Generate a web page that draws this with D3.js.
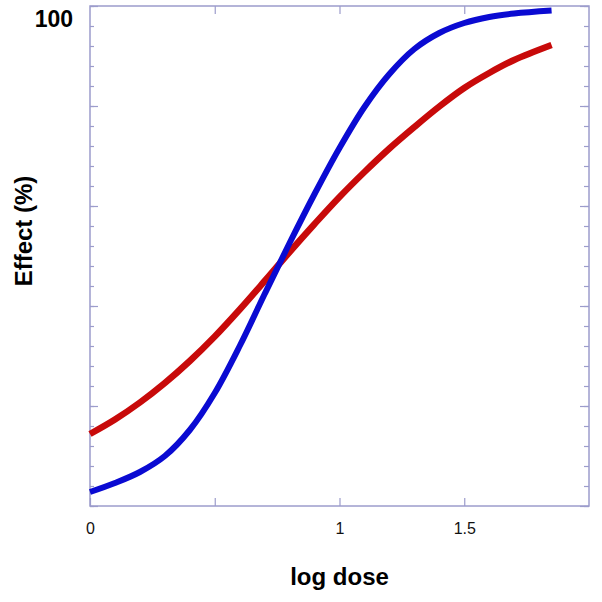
<!DOCTYPE html>
<html>
<head>
<meta charset="utf-8">
<script src="https://cdn.jsdelivr.net/npm/d3@7"></script>
<style>
  body { margin: 0; background: #fff; }
  svg { display: block; font-family: Arial, "Liberation Sans", sans-serif; }
</style>
</head>
<body>
<svg id="chart" width="602" height="602"></svg>
<script>
// data
const doses = [0, 0.1, 0.2, 0.3, 0.4, 0.5, 0.6, 0.7, 0.8, 0.9, 1.0, 1.1, 1.2, 1.3, 1.4, 1.5, 1.6, 1.7, 1.85];
const blueEffect = [2.8, 4.6, 6.8, 10.0, 15.2, 22.6, 32.0, 42.4, 52.6, 62.4, 71.6, 79.8, 86.4, 91.4, 94.6, 96.6, 97.8, 98.5, 99.1];
const redEffect = [14.4, 17.3, 20.7, 24.6, 29.0, 33.9, 39.3, 45.0, 50.8, 56.4, 61.8, 66.8, 71.5, 75.8, 79.9, 83.6, 86.6, 89.2, 92.2];
const xTicks = [0, 0.5, 1, 1.5];
const xTickLabels = ["0", "", "1", "1.5"];
const yMajor = [0, 20, 40, 60, 80, 100];
const yMinor = d3.range(0, 101, 4);

const margin = { top: 6, right: 13, bottom: 96, left: 90 };
const W = 602, H = 602;
const width = W - margin.left - margin.right;
const height = H - margin.top - margin.bottom;
const axisColor = '#9c9ccc';
const fontFamily = 'Arial, "Liberation Sans", sans-serif';

const svg = d3.select('#chart');
const g = svg.append('g').attr('transform', `translate(${margin.left}, ${margin.top})`);

const xScale = d3.scaleLinear().domain([0, 2]).range([0, width]);
const yScale = d3.scaleLinear().domain([0, 100]).range([height, 0]);

const styleAxis = sel => {
	sel.select('.domain').remove();
	sel.selectAll('.tick line').attr('stroke', axisColor).attr('stroke-width', 1.2);
};

// frame
g.append('rect')
	.attr('x', 0).attr('y', 0)
	.attr('width', width).attr('height', height)
	.attr('fill', 'none')
	.attr('stroke', axisColor)
	.attr('stroke-width', 1.5);

// bottom axis
g.append('g')
	.attr('transform', `translate(0, ${height})`)
	.call(d3.axisBottom(xScale).tickValues(xTicks).tickSize(-8).tickPadding(17)
		.tickFormat((d, i) => xTickLabels[i]))
	.call(styleAxis)
	.attr('font-family', fontFamily)
	.attr('font-size', 16)
	.call(a => a.selectAll('.tick text').attr('fill', '#111'));

// top axis
g.append('g')
	.call(d3.axisTop(xScale).tickValues(xTicks.slice(1)).tickSize(-8).tickFormat(''))
	.call(styleAxis);

// left axis
g.append('g')
	.call(d3.axisLeft(yScale).tickValues(yMinor).tickSize(-4).tickFormat(''))
	.call(styleAxis);
g.append('g')
	.call(d3.axisLeft(yScale).tickValues(yMajor).tickSize(-8).tickFormat(''))
	.call(styleAxis);

// right axis
g.append('g')
	.attr('transform', `translate(${width}, 0)`)
	.call(d3.axisRight(yScale).tickValues(yMinor).tickSize(-5).tickFormat(''))
	.call(styleAxis);
g.append('g')
	.attr('transform', `translate(${width}, 0)`)
	.call(d3.axisRight(yScale).tickValues(yMajor).tickSize(-9).tickFormat(''))
	.call(styleAxis);

// "100" label
g.append('text')
	.attr('x', -17)
	.attr('y', yScale(100) + 21)
	.attr('text-anchor', 'end')
	.attr('font-size', 23)
	.attr('font-weight', 'bold')
	.text('100');

// curves
const line = (ys) => d3.line()
	.x((d, i) => xScale(doses[i]))
	.y(d => yScale(d))
	.curve(d3.curveCatmullRom)(ys);

g.append('path')
	.attr('d', line(redEffect))
	.attr('fill', 'none')
	.attr('stroke', '#c80a0a')
	.attr('stroke-width', 6.5);

g.append('path')
	.attr('d', line(blueEffect))
	.attr('fill', 'none')
	.attr('stroke', '#0a0ad2')
	.attr('stroke-width', 6);

// axis titles
svg.append('text')
	.attr('x', margin.left + xScale(1))
	.attr('y', 585)
	.attr('text-anchor', 'middle')
	.attr('font-size', 24)
	.attr('font-weight', 'bold')
	.text('log dose');

svg.append('text')
	.attr('transform', 'translate(32, 231) rotate(-90)')
	.attr('text-anchor', 'middle')
	.attr('font-size', 24)
	.attr('font-weight', 'bold')
	.text('Effect (%)');
</script>
</body>
</html>
